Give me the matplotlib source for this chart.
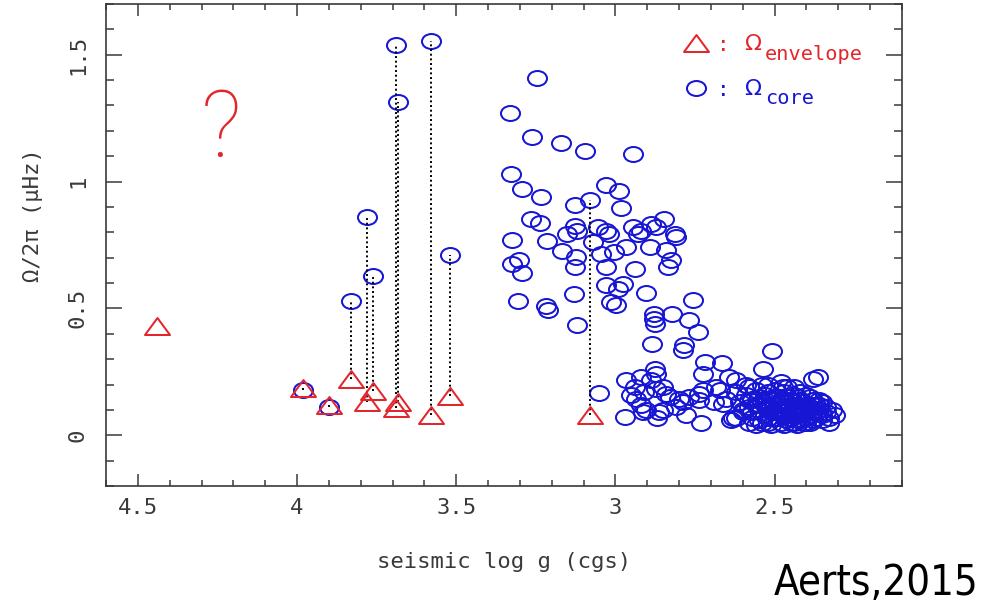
import numpy as np
import matplotlib
matplotlib.use('Agg')
import matplotlib.pyplot as plt
from matplotlib.path import Path
from matplotlib.ticker import MultipleLocator, FuncFormatter

# stars with a measured envelope rate (triangles); core rate nan where unknown
env_logg = [4.44, 3.98, 3.90, 3.832, 3.781, 3.760, 3.690, 3.682, 3.580, 3.521, 3.081]
env_omega = [0.43, 0.185, 0.118, 0.22, 0.13, 0.174, 0.109, 0.131, 0.079, 0.154, 0.079]
env_core = [np.nan, 0.18, 0.11, 0.53, 0.862, 0.627, 1.538, 1.312, 1.553, 0.709, 0.929]

# stars with only a core rate (circles)
core_logg = [
    3.246, 3.330, 3.261, 3.172, 3.097, 2.944, 3.328, 3.293, 3.233, 3.031,
    2.989, 3.127, 2.983, 3.264, 3.236, 3.128, 3.151, 3.120, 3.055, 3.029,
    3.021, 2.945, 2.919, 2.888, 2.846, 2.872, 2.930, 2.814, 2.811, 3.324,
    3.215, 3.167, 3.071, 3.045, 3.003, 2.966, 2.893, 2.840, 3.125, 3.303,
    3.324, 3.293, 3.128, 3.029, 2.937, 2.825, 2.835, 3.031, 2.977, 2.992,
    3.307, 3.217, 3.212, 3.131, 3.013, 2.997, 2.905, 2.757, 3.120, 2.880,
    2.880, 2.877, 2.822, 2.770, 2.741, 2.886, 2.785, 2.788, 2.508, 2.720,
    2.665, 2.966, 2.919, 2.877, 2.872, 2.888, 2.940, 2.909, 2.935, 2.872,
    2.840, 2.799, 2.788, 2.726, 2.726, 2.683, 2.642, 2.621, 2.654, 2.736,
    2.971, 2.914, 2.862, 2.778, 2.730, 2.537, 2.364, 2.380, 2.474, 2.579,
    3.052, 2.903, 2.851, 2.830, 2.663, 2.636, 2.673, 2.736, 2.69, 2.62,
    2.63, 2.60, 2.95, 2.92, 2.87, 2.85, 2.81, 2.77,
    2.61, 2.60, 2.59, 2.58, 2.57, 2.57, 2.56, 2.55, 2.55, 2.54,
    2.54, 2.53, 2.53, 2.52, 2.52, 2.51, 2.51, 2.50, 2.50, 2.50,
    2.49, 2.49, 2.48, 2.48, 2.47, 2.47, 2.46, 2.46, 2.45, 2.45,
    2.44, 2.44, 2.44, 2.43, 2.43, 2.42, 2.42, 2.41, 2.41, 2.40,
    2.40, 2.39, 2.39, 2.38, 2.38, 2.37, 2.37, 2.36, 2.35, 2.35,
    2.34, 2.33, 2.32, 2.31, 2.48, 2.52, 2.46, 2.42, 2.56, 2.53,
    2.49, 2.47, 2.45, 2.43, 2.41, 2.39, 2.51, 2.47, 2.43, 2.39,
    2.36, 2.58, 2.62, 2.59, 2.55, 2.50, 2.46, 2.42, 2.40, 2.44,
    2.57, 2.55, 2.53, 2.52, 2.51, 2.49, 2.48, 2.47, 2.46, 2.45,
    2.44, 2.43, 2.42, 2.41, 2.40, 2.38, 2.37, 2.36, 2.34, 2.33,
    2.54, 2.50, 2.46, 2.44, 2.40, 2.38, 2.35, 2.58, 2.56, 2.52,
]
core_omega = [
    1.408, 1.269, 1.177, 1.152, 1.119, 1.109, 1.031, 0.970, 0.938, 0.988,
    0.961, 0.909, 0.896, 0.853, 0.837, 0.823, 0.794, 0.807, 0.820, 0.807,
    0.794, 0.820, 0.807, 0.831, 0.853, 0.820, 0.794, 0.794, 0.781, 0.768,
    0.765, 0.726, 0.761, 0.715, 0.722, 0.741, 0.741, 0.731, 0.702, 0.692,
    0.676, 0.641, 0.665, 0.663, 0.656, 0.689, 0.665, 0.591, 0.597, 0.578,
    0.531, 0.508, 0.495, 0.555, 0.525, 0.512, 0.560, 0.535, 0.436, 0.479,
    0.459, 0.440, 0.479, 0.455, 0.409, 0.358, 0.354, 0.335, 0.332, 0.289,
    0.285, 0.217, 0.230, 0.263, 0.243, 0.217, 0.190, 0.171, 0.144, 0.184,
    0.164, 0.144, 0.131, 0.243, 0.177, 0.190, 0.230, 0.217, 0.144, 0.138,
    0.072, 0.092, 0.092, 0.079, 0.048, 0.263, 0.230, 0.223, 0.190, 0.190,
    0.167, 0.098, 0.098, 0.151, 0.125, 0.059, 0.177, 0.164, 0.13, 0.17,
    0.07, 0.10, 0.16, 0.12, 0.07, 0.19, 0.11, 0.15,
    0.13, 0.09, 0.16, 0.11, 0.07, 0.14, 0.18, 0.10, 0.06, 0.13,
    0.20, 0.08, 0.16, 0.11, 0.05, 0.14, 0.09, 0.18, 0.12, 0.07,
    0.15, 0.10, 0.05, 0.13, 0.08, 0.17, 0.11, 0.06, 0.14, 0.09,
    0.19, 0.12, 0.05, 0.08, 0.15, 0.11, 0.06, 0.13, 0.09, 0.16,
    0.07, 0.11, 0.05, 0.14, 0.09, 0.07, 0.12, 0.10, 0.06, 0.13,
    0.09, 0.07, 0.10, 0.08, 0.21, 0.20, 0.19, 0.17, 0.12, 0.12,
    0.07, 0.13, 0.05, 0.10, 0.05, 0.08, 0.04, 0.04, 0.04, 0.15,
    0.14, 0.05, 0.07, 0.20, 0.15, 0.15, 0.15, 0.14, 0.12, 0.08,
    0.09, 0.12, 0.14, 0.07, 0.11, 0.12, 0.09, 0.10, 0.13, 0.07,
    0.10, 0.12, 0.08, 0.11, 0.10, 0.06, 0.09, 0.12, 0.11, 0.05,
    0.05, 0.09, 0.08, 0.16, 0.05, 0.12, 0.08, 0.14, 0.04, 0.17,
]

red = '#e3262c'
blue = '#1616d4'
grey = '#3a3a3a'

plt.rcParams['font.family'] = ['DejaVu Sans Mono']

# the original figure is stretched sideways, so the markers are too
circ = Path.unit_circle()
ellipse = Path(circ.vertices * [1.27, 1.0], circ.codes)
tri = Path([(-1, -0.68), (1, -0.68), (0, 0.68), (-1, -0.68)],
           [Path.MOVETO, Path.LINETO, Path.LINETO, Path.CLOSEPOLY])

fig = plt.figure(figsize=(9.83, 6.06), dpi=100)
ax = fig.add_axes([106 / 983, 1 - 486 / 606, 796 / 983, 482 / 606])

# dotted links between envelope and core of the same star
for x, e, c in zip(env_logg, env_omega, env_core):
    if np.isfinite(c):
        ax.plot([x, x], [e, c], color='black', lw=1.4, ls=(0, (1, 1.4)), zorder=3)

ax.plot(core_logg, core_omega, ls='none', marker=ellipse, ms=13.7,
        mfc='none', mec=blue, mew=1.45, zorder=2)
ax.plot(env_logg, env_core, ls='none', marker=ellipse, ms=13.7,
        mfc='none', mec=blue, mew=1.45, zorder=2)
ax.plot(env_logg, env_omega, ls='none', marker=tri, ms=18,
        mfc='none', mec=red, mew=1.45, zorder=4)

ax.set_xlim(4.6, 2.1)
ax.set_ylim(-0.2, 1.7)

ax.xaxis.set_major_locator(MultipleLocator(0.5))
ax.xaxis.set_minor_locator(MultipleLocator(0.1))
ax.yaxis.set_major_locator(MultipleLocator(0.5))
ax.yaxis.set_minor_locator(MultipleLocator(0.1))
fmt = FuncFormatter(lambda v, p: '%g' % v)
ax.xaxis.set_major_formatter(fmt)
ax.yaxis.set_major_formatter(fmt)

ax.tick_params(which='both', direction='in', top=True, right=True,
               color=grey, width=1.1, labelcolor=grey, labelsize=16)
ax.tick_params(axis='x', which='major', length=8.6, pad=9)
ax.tick_params(axis='x', which='minor', length=4.3)
ax.tick_params(axis='y', which='major', length=11.5, pad=13, labelrotation=90)
ax.tick_params(axis='y', which='minor', length=5.8)
for lab in ax.get_yticklabels():
    lab.set_va('center')
for s in ax.spines.values():
    s.set_color(grey)
    s.set_linewidth(1.2)

ax.set_xlabel('seismic log g (cgs)', fontsize=16, color=grey)
ax.xaxis.set_label_coords(0.5, -0.137)
ax.set_ylabel('Ω/2π (μHz)', fontsize=16, color=grey)
ax.yaxis.set_label_coords(-0.079, 0.562)

# hand-drawn style legend
ax.plot([0.7408], [0.9197], transform=ax.transAxes, marker=tri, ms=18,
        mfc='none', mec=red, mew=1.45, clip_on=False)
ax.plot([0.7412], [0.8251], transform=ax.transAxes, marker=ellipse, ms=13.7,
        mfc='none', mec=blue, mew=1.45, clip_on=False)
for yy, col in [(0.915, red), (0.8216, blue)]:
    ax.text(0.775, yy, ':', transform=ax.transAxes, color=col, fontsize=15,
            ha='center', va='center')
ax.text(0.8015, 0.9046, 'Ω', transform=ax.transAxes, color=red, fontsize=16,
        family=['DejaVu Sans'], va='baseline')
ax.text(0.8279, 0.8838, 'envelope', transform=ax.transAxes, color=red, fontsize=14.6, va='baseline')
ax.text(0.8015, 0.8112, 'Ω', transform=ax.transAxes, color=blue, fontsize=16,
        family=['DejaVu Sans'], va='baseline')
ax.text(0.8279, 0.7925, 'core', transform=ax.transAxes, color=blue, fontsize=14.6, va='baseline')

# the missing core rate of the hottest star
ax.text(4.24, 1.196, '?', color=red, fontsize=67, family=['Roboto', 'DejaVu Sans'],
        fontweight=100, ha='center', va='center')

fig.text(978 / 983, 1 - 595 / 606, 'Aerts,2015', ha='right', va='baseline',
         fontsize=30, color='black', family=['DejaVu Sans'], fontstretch='condensed')

fig.savefig('out.png', dpi=100)
